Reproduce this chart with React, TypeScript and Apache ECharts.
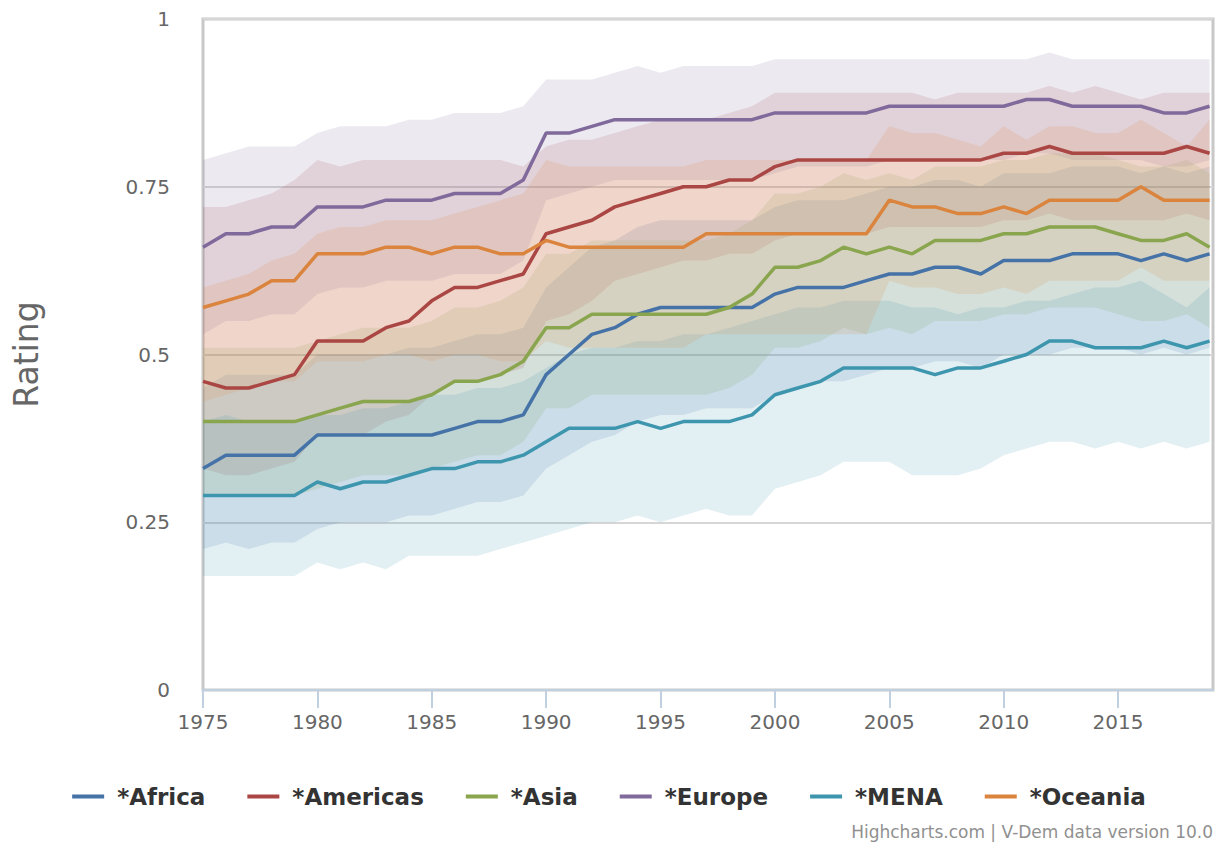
import React, { useEffect, useRef } from "react";
import * as echarts from "echarts";

const years = [
  1975, 1976, 1977, 1978, 1979, 1980, 1981, 1982, 1983, 1984,
  1985, 1986, 1987, 1988, 1989, 1990, 1991, 1992, 1993, 1994,
  1995, 1996, 1997, 1998, 1999, 2000, 2001, 2002, 2003, 2004,
  2005, 2006, 2007, 2008, 2009, 2010, 2011, 2012, 2013, 2014,
  2015, 2016, 2017, 2018, 2019,
];
const xTicks = [1975, 1980, 1985, 1990, 1995, 2000, 2005, 2010, 2015];
const yTicks = [0, 0.25, 0.5, 0.75, 1];

const africa = [
  0.33, 0.35, 0.35, 0.35, 0.35, 0.38, 0.38, 0.38, 0.38, 0.38,
  0.38, 0.39, 0.4, 0.4, 0.41, 0.47, 0.5, 0.53, 0.54, 0.56,
  0.57, 0.57, 0.57, 0.57, 0.57, 0.59, 0.6, 0.6, 0.6, 0.61,
  0.62, 0.62, 0.63, 0.63, 0.62, 0.64, 0.64, 0.64, 0.65, 0.65,
  0.65, 0.64, 0.65, 0.64, 0.65,
];
const africaLo = [
  0.21, 0.22, 0.21, 0.22, 0.22, 0.24, 0.25, 0.25, 0.25, 0.26,
  0.26, 0.27, 0.28, 0.28, 0.29, 0.33, 0.35, 0.37, 0.38, 0.4,
  0.41, 0.41, 0.42, 0.42, 0.42, 0.44, 0.45, 0.46, 0.46, 0.47,
  0.48, 0.48, 0.49, 0.49, 0.48, 0.5, 0.5, 0.5, 0.51, 0.51,
  0.51, 0.5, 0.51, 0.5, 0.51,
];
const africaHi = [
  0.45, 0.47, 0.47, 0.47, 0.47, 0.5, 0.5, 0.5, 0.5, 0.51,
  0.51, 0.52, 0.53, 0.53, 0.54, 0.6, 0.63, 0.66, 0.67, 0.69,
  0.7, 0.7, 0.7, 0.7, 0.7, 0.72, 0.73, 0.73, 0.73, 0.74,
  0.75, 0.75, 0.76, 0.76, 0.75, 0.77, 0.77, 0.77, 0.78, 0.78,
  0.78, 0.77, 0.78, 0.77, 0.78,
];

const americas = [
  0.46, 0.45, 0.45, 0.46, 0.47, 0.52, 0.52, 0.52, 0.54, 0.55,
  0.58, 0.6, 0.6, 0.61, 0.62, 0.68, 0.69, 0.7, 0.72, 0.73,
  0.74, 0.75, 0.75, 0.76, 0.76, 0.78, 0.79, 0.79, 0.79, 0.79,
  0.79, 0.79, 0.79, 0.79, 0.79, 0.8, 0.8, 0.81, 0.8, 0.8,
  0.8, 0.8, 0.8, 0.81, 0.8,
];
const americasLo = [
  0.33, 0.32, 0.32, 0.33, 0.34, 0.38, 0.38, 0.38, 0.4, 0.41,
  0.44, 0.46, 0.46, 0.47, 0.48, 0.55, 0.56, 0.58, 0.61, 0.62,
  0.63, 0.64, 0.64, 0.65, 0.65, 0.67, 0.68, 0.68, 0.68, 0.68,
  0.69, 0.69, 0.69, 0.69, 0.69, 0.7, 0.7, 0.71, 0.7, 0.7,
  0.7, 0.7, 0.7, 0.71, 0.7,
];
const americasHi = [
  0.72, 0.72, 0.73, 0.74, 0.76, 0.79, 0.78, 0.79, 0.79, 0.79,
  0.79, 0.79, 0.79, 0.79, 0.78, 0.81, 0.82, 0.82, 0.83, 0.84,
  0.85, 0.85, 0.85, 0.86, 0.87, 0.89, 0.89, 0.89, 0.89, 0.89,
  0.89, 0.89, 0.88, 0.89, 0.89, 0.89, 0.89, 0.9, 0.89, 0.9,
  0.89, 0.88, 0.89, 0.89, 0.89,
];

const asia = [
  0.4, 0.4, 0.4, 0.4, 0.4, 0.41, 0.42, 0.43, 0.43, 0.43,
  0.44, 0.46, 0.46, 0.47, 0.49, 0.54, 0.54, 0.56, 0.56, 0.56,
  0.56, 0.56, 0.56, 0.57, 0.59, 0.63, 0.63, 0.64, 0.66, 0.65,
  0.66, 0.65, 0.67, 0.67, 0.67, 0.68, 0.68, 0.69, 0.69, 0.69,
  0.68, 0.67, 0.67, 0.68, 0.66,
];
const asiaLo = [
  0.29, 0.29, 0.29, 0.29, 0.29, 0.3, 0.31, 0.32, 0.32, 0.32,
  0.33, 0.34, 0.35, 0.35, 0.37, 0.42, 0.42, 0.44, 0.44, 0.44,
  0.44, 0.44, 0.44, 0.45, 0.47, 0.51, 0.51, 0.52, 0.54, 0.53,
  0.54, 0.53, 0.55, 0.55, 0.55, 0.56, 0.56, 0.57, 0.57, 0.57,
  0.56, 0.55, 0.55, 0.56, 0.54,
];
const asiaHi = [
  0.51, 0.51, 0.51, 0.51, 0.51, 0.52, 0.53, 0.54, 0.54, 0.54,
  0.55, 0.57, 0.57, 0.58, 0.6, 0.65, 0.65, 0.67, 0.67, 0.67,
  0.67, 0.67, 0.67, 0.68, 0.7, 0.74, 0.74, 0.75, 0.77, 0.76,
  0.77, 0.76, 0.78, 0.78, 0.78, 0.79, 0.79, 0.8, 0.8, 0.8,
  0.79, 0.78, 0.78, 0.79, 0.77,
];

const europe = [
  0.66, 0.68, 0.68, 0.69, 0.69, 0.72, 0.72, 0.72, 0.73, 0.73,
  0.73, 0.74, 0.74, 0.74, 0.76, 0.83, 0.83, 0.84, 0.85, 0.85,
  0.85, 0.85, 0.85, 0.85, 0.85, 0.86, 0.86, 0.86, 0.86, 0.86,
  0.87, 0.87, 0.87, 0.87, 0.87, 0.87, 0.88, 0.88, 0.87, 0.87,
  0.87, 0.87, 0.86, 0.86, 0.87,
];
const europeLo = [
  0.53, 0.55, 0.55, 0.56, 0.56, 0.59, 0.6, 0.6, 0.61, 0.61,
  0.61, 0.62, 0.62, 0.62, 0.64, 0.73, 0.74, 0.75, 0.76, 0.76,
  0.76, 0.76, 0.76, 0.76, 0.76, 0.77, 0.78, 0.78, 0.78, 0.78,
  0.79, 0.79, 0.79, 0.79, 0.79, 0.79, 0.8, 0.8, 0.79, 0.79,
  0.79, 0.79, 0.78, 0.78, 0.79,
];
const europeHi = [
  0.79, 0.8, 0.81, 0.81, 0.81, 0.83, 0.84, 0.84, 0.84, 0.85,
  0.85, 0.86, 0.86, 0.86, 0.87, 0.91, 0.91, 0.91, 0.92, 0.93,
  0.92, 0.93, 0.93, 0.93, 0.93, 0.94, 0.94, 0.94, 0.94, 0.94,
  0.94, 0.94, 0.94, 0.94, 0.94, 0.94, 0.94, 0.95, 0.94, 0.94,
  0.94, 0.94, 0.94, 0.94, 0.94,
];

const mena = [
  0.29, 0.29, 0.29, 0.29, 0.29, 0.31, 0.3, 0.31, 0.31, 0.32,
  0.33, 0.33, 0.34, 0.34, 0.35, 0.37, 0.39, 0.39, 0.39, 0.4,
  0.39, 0.4, 0.4, 0.4, 0.41, 0.44, 0.45, 0.46, 0.48, 0.48,
  0.48, 0.48, 0.47, 0.48, 0.48, 0.49, 0.5, 0.52, 0.52, 0.51,
  0.51, 0.51, 0.52, 0.51, 0.52,
];
const menaLo = [
  0.17, 0.17, 0.17, 0.17, 0.17, 0.19, 0.18, 0.19, 0.18, 0.2,
  0.2, 0.2, 0.2, 0.21, 0.22, 0.23, 0.24, 0.25, 0.25, 0.26,
  0.25, 0.26, 0.27, 0.26, 0.26, 0.3, 0.31, 0.32, 0.34, 0.34,
  0.34, 0.32, 0.32, 0.32, 0.33, 0.35, 0.36, 0.37, 0.37, 0.36,
  0.37, 0.36, 0.37, 0.36, 0.37,
];
const menaHi = [
  0.4, 0.41, 0.4, 0.4, 0.4, 0.41, 0.41, 0.42, 0.42, 0.43,
  0.44, 0.44, 0.45, 0.45, 0.46, 0.48, 0.5, 0.51, 0.51, 0.52,
  0.52, 0.53, 0.53, 0.54, 0.55, 0.56, 0.57, 0.57, 0.58, 0.58,
  0.58, 0.57, 0.57, 0.56, 0.57, 0.57, 0.58, 0.58, 0.59, 0.6,
  0.6, 0.61, 0.59, 0.57, 0.6,
];

const oceania = [
  0.57, 0.58, 0.59, 0.61, 0.61, 0.65, 0.65, 0.65, 0.66, 0.66,
  0.65, 0.66, 0.66, 0.65, 0.65, 0.67, 0.66, 0.66, 0.66, 0.66,
  0.66, 0.66, 0.68, 0.68, 0.68, 0.68, 0.68, 0.68, 0.68, 0.68,
  0.73, 0.72, 0.72, 0.71, 0.71, 0.72, 0.71, 0.73, 0.73, 0.73,
  0.73, 0.75, 0.73, 0.73, 0.73,
];
const oceaniaLo = [
  0.43, 0.44, 0.45, 0.46, 0.46, 0.49, 0.49, 0.49, 0.5, 0.5,
  0.49, 0.5, 0.5, 0.49, 0.49, 0.52, 0.51, 0.51, 0.51, 0.51,
  0.51, 0.51, 0.53, 0.53, 0.53, 0.53, 0.53, 0.53, 0.53, 0.53,
  0.61, 0.6, 0.6, 0.59, 0.59, 0.6, 0.59, 0.61, 0.61, 0.61,
  0.61, 0.63, 0.61, 0.61, 0.61,
];
const oceaniaHi = [
  0.6, 0.61, 0.62, 0.64, 0.65, 0.68, 0.69, 0.69, 0.7, 0.7,
  0.7, 0.71, 0.72, 0.73, 0.74, 0.79, 0.78, 0.78, 0.78, 0.78,
  0.78, 0.78, 0.79, 0.79, 0.79, 0.79, 0.79, 0.79, 0.79, 0.79,
  0.84, 0.83, 0.83, 0.82, 0.81, 0.84, 0.82, 0.84, 0.84, 0.83,
  0.83, 0.85, 0.83, 0.81, 0.85,
];

const regions = [
  { name: "*Africa", color: "#4572A7", line: africa, lo: africaLo, hi: africaHi },
  { name: "*Americas", color: "#AA4643", line: americas, lo: americasLo, hi: americasHi },
  { name: "*Asia", color: "#89A54E", line: asia, lo: asiaLo, hi: asiaHi },
  { name: "*Europe", color: "#80699B", line: europe, lo: europeLo, hi: europeHi },
  { name: "*MENA", color: "#3D96AE", line: mena, lo: menaLo, hi: menaHi },
  { name: "*Oceania", color: "#DB843D", line: oceania, lo: oceaniaLo, hi: oceaniaHi },
];

const FONT = "'DejaVu Sans', 'Lucida Grande', Verdana, sans-serif";

function rgba(hex: string, a: number) {
  const n = parseInt(hex.slice(1), 16);
  return `rgba(${(n >> 16) & 255},${(n >> 8) & 255},${n & 255},${a})`;
}

export default function App() {
  const ref = useRef<HTMLDivElement>(null);

  useEffect(() => {
    if (!ref.current) return;
    const chart = echarts.init(ref.current, undefined, { renderer: "svg" });

    const series: any[] = [];
    regions.forEach((r) => {
      series.push({
        name: r.name,
        type: "custom",
        coordinateSystem: "cartesian2d",
        silent: true,
        color: r.color,
        clip: true,
        z: 1,
        encode: { x: 0, y: [1, 2] },
        data: years.map((y, i) => [y, r.lo[i], r.hi[i]]),
        renderItem: (params: any, api: any) => {
          if (params.dataIndex !== 0) return null;
          const top = years.map((y, i) => api.coord([y, r.hi[i]]));
          const bottom = years.map((y, i) => api.coord([y, r.lo[i]])).reverse();
          return {
            type: "polygon",
            shape: { points: top.concat(bottom) },
            style: { fill: rgba(r.color, 0.15), stroke: "none" },
          };
        },
      });
    });
    regions.forEach((r) => {
      series.push({
        name: r.name,
        type: "line",
        symbol: "none",
        color: r.color,
        lineStyle: { color: r.color, width: 3.5 },
        data: years.map((y, i) => [y, r.line[i]]),
        z: 3,
      });
    });

    chart.setOption({
      animation: false,
      textStyle: { fontFamily: FONT },
      grid: {
        left: 203,
        right: 5,
        top: 19,
        bottom: 156,
        show: true,
        borderColor: "#c8c8c8",
        borderWidth: 3,
        backgroundColor: "transparent",
      },
      xAxis: {
        type: "value",
        min: 1975,
        max: 2019.15,
        axisLine: { show: true, lineStyle: { color: "#C0D0E0", width: 2 } },
        axisTick: {
          show: true,
          length: 18,
          lineStyle: { color: "#C0D0E0", width: 2 },
          customValues: xTicks,
        },
        axisLabel: {
          customValues: xTicks,
          color: "#666666",
          fontSize: 20,
          fontFamily: FONT,
          margin: 22,
          formatter: (v: number) => (v % 5 === 0 ? String(v) : ""),
        },
        splitLine: { show: false },
      },
      yAxis: {
        type: "value",
        min: 0,
        max: 1,
        interval: 0.25,
        name: "Rating",
        nameLocation: "middle",
        nameGap: 160,
        nameTextStyle: { color: "#666666", fontSize: 33, fontFamily: FONT },
        axisLine: { show: false },
        axisTick: { show: false },
        axisLabel: {
          color: "#666666",
          fontSize: 20,
          fontFamily: FONT,
          margin: 33,
          formatter: (v: number) => (yTicks.indexOf(v) >= 0 ? String(v) : ""),
        },
        splitLine: { show: true, lineStyle: { color: "#d6d6d6", width: 2 } },
      },
      legend: {
        data: regions.map((r) => ({ name: r.name, icon: "rect", itemStyle: { color: r.color } })),
        top: 780,
        left: "center",
        itemWidth: 32,
        itemHeight: 4,
        itemGap: 42,
        textStyle: {
          color: "#333333",
          fontSize: 23,
          fontWeight: "bold",
          fontFamily: FONT,
          padding: [0, 0, 0, 8],
        },
      },
      graphic: [
        {
          type: "text",
          right: 5,
          top: 823,
          style: {
            text: "Highcharts.com | V-Dem data version 10.0",
            fill: "#909090",
            font: `17px ${FONT}`,
          },
        },
      ],
      series,
    });

    return () => chart.dispose();
  }, []);

  return (
    <div
      ref={ref}
      style={{ position: "fixed", left: 0, top: 0, width: 1218, height: 846, background: "#fff" }}
    />
  );
}
